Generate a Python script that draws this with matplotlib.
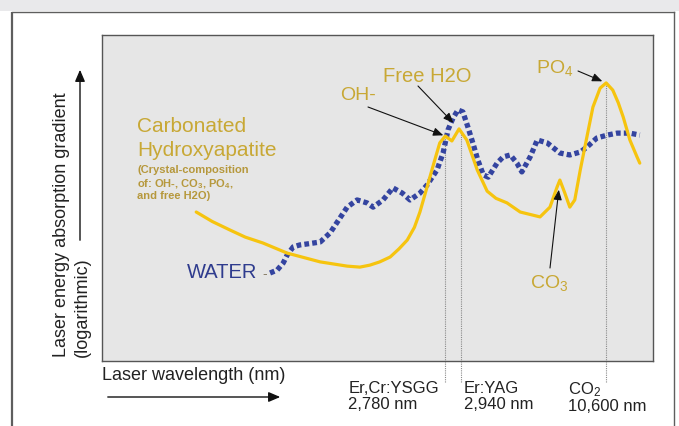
import matplotlib
matplotlib.use("Agg")
import matplotlib.pyplot as plt
import numpy as np

plt.rcParams['font.family'] = ['Liberation Sans', 'DejaVu Sans']
plt.rcParams['mathtext.fontset'] = 'custom'
plt.rcParams['mathtext.rm'] = 'Liberation Sans'
plt.rcParams['mathtext.it'] = 'Liberation Sans:italic'
plt.rcParams['mathtext.bf'] = 'Liberation Sans:bold'

# ---- data (relative wavelength position 0-100, relative log absorption 0-100) ----
hap_x = [17.1, 20.0, 23.2, 26.0, 29.2, 33.6, 39.6, 44.5, 46.8, 48.6, 50.4, 52.3,
         53.9, 55.4, 56.7, 57.7, 59.0, 60.4, 61.3, 62.3, 63.5, 64.8, 66.2, 67.2,
         68.1, 69.9, 71.5, 73.5, 75.9, 79.5, 81.3, 82.6, 83.1, 84.0, 84.9, 85.8,
         86.8, 88.0, 89.1, 90.4, 91.5, 92.7, 93.7, 94.6, 95.8, 97.1, 97.6]
hap_y = [45.7, 42.8, 40.2, 38.0, 36.2, 33.1, 30.4, 29.1, 28.8, 29.4, 30.4, 31.9,
         34.4, 37.1, 41.0, 45.7, 53.4, 61.7, 66.9, 69.0, 67.5, 71.2, 67.8, 63.0,
         58.6, 52.1, 49.9, 48.5, 45.7, 44.2, 47.2, 53.4, 55.5, 51.5, 47.2, 49.4,
         58.6, 68.7, 77.9, 83.7, 85.3, 83.1, 79.2, 74.8, 67.8, 62.6, 60.7]

water_x = [30.5, 31.8, 32.9, 33.6, 34.7, 35.9, 37.2, 39.6, 41.4, 43.2, 44.5, 46.3,
           48.1, 49.2, 51.0, 52.8, 54.5, 55.9, 57.7, 59.0, 60.8, 61.9, 62.8, 63.7,
           64.6, 65.5, 66.4, 67.3, 68.2, 69.2, 70.1, 71.7, 72.8, 74.1, 75.3, 76.2,
           77.7, 79.0, 80.8, 83.1, 84.9, 86.8, 88.0, 89.8, 91.7, 93.5, 95.8, 97.6]
water_y = [27.0, 27.9, 30.1, 32.5, 35.0, 35.6, 35.9, 36.5, 39.3, 43.9, 47.2, 49.4,
           48.5, 47.2, 49.4, 53.1, 51.5, 49.4, 51.5, 54.0, 58.6, 63.8, 70.9, 74.5,
           77.0, 76.4, 71.8, 66.9, 61.7, 57.1, 56.4, 60.7, 62.6, 63.2, 60.7, 58.0,
           62.6, 67.8, 66.9, 63.8, 63.2, 64.1, 65.6, 68.4, 69.3, 69.9, 69.9, 69.3]

laser_names = ["Er,Cr:YSGG\n2,780 nm", "Er:YAG\n2,940 nm", "CO$_\\mathregular{2}$\n10,600 nm"]
laser_x = [62.3, 65.2, 91.5]
laser_top = [68.7, 70.9, 85.0]

GOLD_LINE = '#f6c40f'
GOLD_TEXT = '#c8a835'
GOLD_SMALL = '#b6983c'
BLUE = '#3444a0'
BLUE_TEXT = '#2f3c8e'

W, H = 679, 426
fig = plt.figure(figsize=(W / 100, H / 100), dpi=100)
fig.patch.set_facecolor('white')

# decoration layer in pixel coordinates
deco = fig.add_axes([0, 0, 1, 1], zorder=0)
deco.set_xlim(0, W)
deco.set_ylim(H, 0)
deco.axis('off')
deco.add_patch(plt.Rectangle((0, 0), W, 11, color='#e9e9eb', lw=0))
deco.plot([12, 12], [12, H], color='#5e5e5e', lw=1.6, solid_capstyle='butt')
deco.plot([12, 673.5], [12, 12], color='#5e5e5e', lw=1.0)
deco.plot([673.5, 673.5], [12, H], color='#5e5e5e', lw=1.0)

# axis captions and arrows
deco.text(102, 375, "Laser wavelength (nm)", fontsize=13, ha='left', va='center', color='#222222')
deco.annotate('', xy=(283, 397), xytext=(105, 397),
              arrowprops=dict(arrowstyle='-|>,head_length=0.7,head_width=0.3', color='#111111', lw=1.0))
deco.text(62, 357, "Laser energy absorption gradient", fontsize=13, rotation=90,
          ha='center', va='bottom', color='#222222')
deco.text(82, 357, "(logarithmic)", fontsize=13, rotation=90,
          ha='center', va='bottom', color='#222222')
deco.annotate('', xy=(80, 67), xytext=(80, 243),
              arrowprops=dict(arrowstyle='-|>,head_length=0.7,head_width=0.3', color='#111111', lw=1.0))

# data axes (inner box)
L, T, R, B = 102, 35, 653, 361
ax = fig.add_axes([L / W, 1 - B / H, (R - L) / W, (B - T) / H], zorder=1)
ax.set_facecolor('#e6e6e6')
ax.set_xlim(0, 100)
ax.set_ylim(0, 100)
ax.set_xticks([])
ax.set_yticks([])
for s in ax.spines.values():
    s.set_color('#555555')
    s.set_linewidth(1.0)

# laser wavelength guide lines
ax.vlines(laser_x, -6.4, laser_top, colors='#8a8a8a', linestyles=(0, (1, 1)), lw=0.8,
          clip_on=False, zorder=1)

ax.plot(water_x, water_y, color=BLUE, lw=3.8, linestyle=(0, (0.9, 0.6)),
        dash_capstyle='butt', zorder=2)
ax.plot(hap_x, hap_y, color=GOLD_LINE, lw=2.3, solid_joinstyle='round',
        solid_capstyle='round', zorder=3)

# laser labels below the box
px = deco.transData
ax.text(439, 381, laser_names[0], transform=px, fontsize=12, ha='right', va='top',
        multialignment='left', linespacing=1.08, color='#222222', clip_on=False)
ax.text(464, 381, laser_names[1], transform=px, fontsize=12, ha='left', va='top',
        multialignment='left', linespacing=1.08, color='#222222', clip_on=False)
ax.text(607, 380, laser_names[2], transform=px, fontsize=12, ha='center', va='top',
        multialignment='left', linespacing=1.0, color='#222222', clip_on=False)

# labels inside the box
ax.text(137, 127, "Carbonated", transform=px, fontsize=15, color=GOLD_TEXT, ha='left', va='center')
ax.text(137, 150, "Hydroxyapatite", transform=px, fontsize=15, color=GOLD_TEXT, ha='left', va='center')
ax.text(137, 169, "(Crystal-composition", transform=px, fontsize=8, fontweight='bold',
        color=GOLD_SMALL, ha='left', va='center_baseline')
ax.text(137, 182, "of: OH-, CO$_\\mathregular{3}$, PO$_\\mathregular{4}$,", transform=px, fontsize=8,
        fontweight='bold', color=GOLD_SMALL, ha='left', va='center_baseline')
ax.text(137, 195, "and free H2O)", transform=px, fontsize=8, fontweight='bold',
        color=GOLD_SMALL, ha='left', va='center_baseline')

ax.text(187, 273, "WATER", transform=px, fontsize=14.5, color=BLUE_TEXT, ha='left', va='center')
ax.text(262, 274, "-", transform=px, fontsize=10, color='#8a7f6a', ha='left', va='center')

ax.text(340, 95, "OH-", transform=px, fontsize=14, color=GOLD_TEXT, ha='left', va='center')
ax.text(383, 77, "Free H2O", transform=px, fontsize=14.5, color=GOLD_TEXT, ha='left', va='center')
ax.text(536, 68, "PO$_\\mathregular{4}$", transform=px, fontsize=14, color=GOLD_TEXT, ha='left', va='center')
ax.text(530, 283, "CO$_\\mathregular{3}$", transform=px, fontsize=14, color=GOLD_TEXT, ha='left', va='center')

arrow = dict(arrowstyle='-|>,head_length=0.6,head_width=0.25', color='#111111', lw=0.8)
i_oh = hap_x.index(62.3)
i_h2o = hap_x.index(64.8)
i_co3 = hap_x.index(83.1)
i_po4 = int(np.argmax(hap_y))
ax.annotate('', xy=(hap_x[i_oh], hap_y[i_oh]), xytext=(368, 107), textcoords=px,
            arrowprops=dict(arrow, shrinkA=0, shrinkB=1.5), zorder=5)
ax.annotate('', xy=(hap_x[i_h2o], hap_y[i_h2o]), xytext=(418, 86), textcoords=px,
            arrowprops=dict(arrow, shrinkA=0, shrinkB=6), zorder=5)
ax.annotate('', xy=(hap_x[i_po4], hap_y[i_po4]), xytext=(578, 71), textcoords=px,
            arrowprops=dict(arrow, shrinkA=0, shrinkB=3), zorder=5)
ax.annotate('', xy=(hap_x[i_co3], hap_y[i_co3]), xytext=(550, 268), textcoords=px,
            arrowprops=dict(arrow, shrinkA=0, shrinkB=7), zorder=5)

fig.savefig('out.png', dpi=100)
